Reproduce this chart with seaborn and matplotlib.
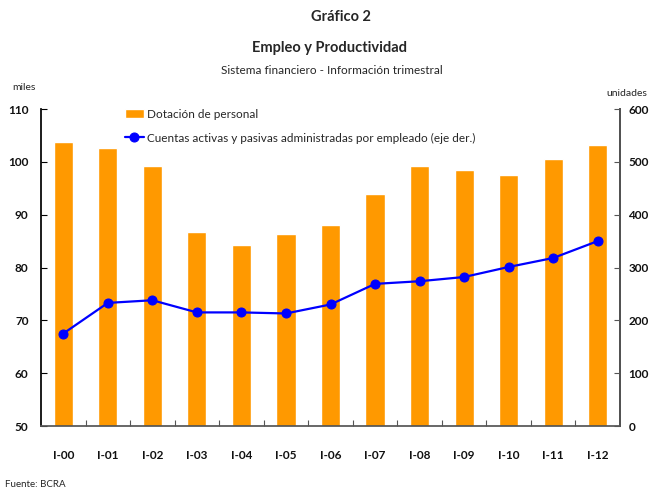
import seaborn as sns
import numpy as np
import matplotlib
matplotlib.use("Agg")
from matplotlib import pyplot as plt
from matplotlib.ticker import MultipleLocator, FixedLocator

# datos
periodos = ["I-00", "I-01", "I-02", "I-03", "I-04", "I-05", "I-06",
            "I-07", "I-08", "I-09", "I-10", "I-11", "I-12"]
dotacion = [103.7, 102.6, 99.2, 86.8, 84.2, 86.4, 88.1,
            94.0, 99.2, 98.5, 97.5, 100.6, 103.2]  # miles
cuentas = [175, 233, 238, 215, 215, 213, 230,
           269, 274, 282, 301, 318, 350]  # unidades

naranja = "#FF9900"
azul = "#0000FF"

sns.set_theme(style="white")
plt.rcParams['font.family'] = ['Lato', 'DejaVu Sans']

fig = plt.figure(figsize=(6.51, 4.9), dpi=100)
ax = fig.add_axes([41 / 651, 1 - 426 / 490, 579 / 651, 317 / 490])

sns.barplot(x=periodos, y=dotacion, color=naranja, width=0.43,
            saturation=1, ax=ax, label="Dotación de personal")
ax.set_ylim(50, 110)
ax.set_xlim(-0.5, len(periodos) - 0.5)

ax2 = ax.twinx()
sns.lineplot(x=np.arange(len(periodos)), y=cuentas, color=azul, marker="o",
             markersize=6.5, markeredgecolor=azul, linewidth=1.6, ax=ax2,
             label="Cuentas activas y pasivas administradas por empleado (eje der.)")
ax2.set_ylim(0, 600)
ax2.set_xlim(-0.5, len(periodos) - 0.5)

# ejes
for a in (ax, ax2):
    a.spines["top"].set_visible(False)
    a.set_xlabel("")
    a.set_ylabel("")
ax.spines["left"].set_color("black")
ax.spines["bottom"].set_color("#555555")
ax2.spines["right"].set_color("#555555")
ax2.spines["left"].set_visible(False)
ax2.spines["bottom"].set_visible(False)

ax.yaxis.set_major_locator(MultipleLocator(10))
ax2.yaxis.set_major_locator(MultipleLocator(100))
ax.tick_params(axis="y", direction="in", length=4, width=0.8, color="black",
               left=True, pad=9, labelsize=8.5)
ax2.tick_params(axis="y", direction="in", length=4, width=0.8, color="#555555",
                right=True, pad=6, labelsize=8.5)
ax.xaxis.set_minor_locator(FixedLocator(np.arange(0.5, len(periodos) - 1, 1)))
ax.tick_params(axis="x", which="major", length=0, pad=17, labelsize=8.5)
ax.tick_params(axis="x", which="minor", direction="in", length=4, width=0.8,
               color="#555555", bottom=True)
for lab in ax.get_xticklabels() + ax.get_yticklabels() + ax2.get_yticklabels():
    lab.set_fontweight("bold")
    lab.set_color("#111111")

# leyenda
h1, l1 = ax.get_legend_handles_labels()
h2, l2 = ax2.get_legend_handles_labels()
if ax2.get_legend():
    ax2.get_legend().remove()
if ax.get_legend():
    ax.get_legend().remove()
fig.legend(h1 + h2, l1 + l2, loc="upper left", bbox_to_anchor=(120 / 651, 1 - 104 / 490),
           frameon=False, fontsize=8.5, handlelength=1.6, handleheight=0.8,
           labelspacing=1.1, handletextpad=0.3, borderaxespad=0)

# textos
fig.text(341 / 651, 1 - 17 / 490, "Gráfico 2", ha="center", va="center",
         fontsize=10.5, fontweight="bold")
fig.text(330 / 651, 1 - 48 / 490, "Empleo y Productividad", ha="center",
         va="center", fontsize=10.5, fontweight="bold")
fig.text(332 / 651, 1 - 71 / 490, "Sistema financiero - Información trimestral",
         ha="center", va="center", fontsize=8.5)
fig.text(12 / 651, 1 - 87 / 490, "miles", ha="left", va="center", fontsize=7.5)
fig.text(647 / 651, 1 - 93 / 490, "unidades", ha="right", va="center", fontsize=7.5)
fig.text(5 / 651, 1 - 484 / 490, "Fuente: BCRA", ha="left", va="center", fontsize=7)

fig.savefig("out.png", dpi=100)
